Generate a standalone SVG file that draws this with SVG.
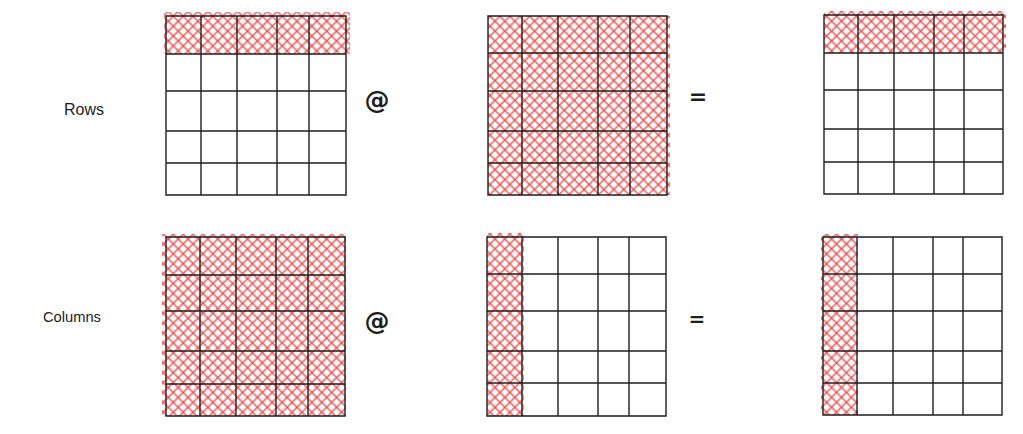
<svg xmlns="http://www.w3.org/2000/svg" width="1023" height="434" viewBox="0 0 1023 434">
  <defs>
    <pattern id="hatch" patternUnits="userSpaceOnUse" width="7" height="7" patternTransform="rotate(45)">
      <line x1="0" y1="1" x2="7" y2="1" class="h"/>
      <line x1="1" y1="0" x2="1" y2="7" class="h"/>
    </pattern>
    <style>
      .h { stroke: #f03e3e; stroke-width: 1.5; stroke-opacity: 0.85; }
      .fill { fill: url(#hatch); stroke: none; }
      .grid { fill: none; stroke: #1e1e1e; stroke-width: 1.4; stroke-linecap: round; }
      .lbl { font-family: "Liberation Sans", "DejaVu Sans", sans-serif; fill: #1e1e1e; }
      .op { font-family: "DejaVu Sans", "Liberation Sans", sans-serif; font-weight: bold; fill: #1e1e1e; text-anchor: middle; }
    </style>
  </defs>
  <rect width="1023" height="434" fill="#ffffff"/>

  <g id="label-rows"><text class="lbl" x="64" y="115" font-size="16">Rows</text></g>
  <g id="label-columns"><text class="lbl" x="43" y="322" font-size="14.7">Columns</text></g>

  <g id="A-rows">
    <rect class="fill" x="164" y="12" width="186" height="42"/>
    <path class="grid" d="M166 16H346V195H166Z M201 16V195 M237 16V195 M277 16V195 M309 16V195 M166 54H346 M166 91H346 M166 131H346 M166 163H346"/>
  </g>
  <g id="op-at-1"><text class="op" x="377" y="109" font-size="25">@</text></g>
  <g id="B-rows">
    <rect class="fill" x="488" y="16" width="182" height="179"/>
    <path class="grid" d="M488 16H667V195H488Z M522 16V195 M558 16V195 M598 16V195 M630 16V195 M488 53H667 M488 91H667 M488 131H667 M488 163H667"/>
  </g>
  <g id="op-eq-1"><text class="op" x="698" y="104" font-size="22">=</text></g>
  <g id="C-rows">
    <rect class="fill" x="824" y="11" width="182" height="42"/>
    <path class="grid" d="M824 15H1003V194H824Z M858 15V194 M894 15V194 M934 15V194 M964 15V194 M824 53H1003 M824 90H1003 M824 129H1003 M824 162H1003"/>
  </g>

  <g id="A-cols">
    <rect class="fill" x="162" y="234" width="184" height="182"/>
    <path class="grid" d="M166 237H345V416H166Z M200 237V416 M236 237V416 M276 237V416 M308 237V416 M166 275H345 M166 311H345 M166 351H345 M166 384H345"/>
  </g>
  <g id="op-at-2"><text class="op" x="377" y="330" font-size="25">@</text></g>
  <g id="B-cols">
    <rect class="fill" x="487" y="233" width="37" height="183"/>
    <path class="grid" d="M487 237H666V416H487Z M522 237V416 M558 237V416 M598 237V416 M629 237V416 M487 274H666 M487 311H666 M487 351H666 M487 383H666"/>
  </g>
  <g id="op-eq-2"><text class="op" x="697" y="326" font-size="20">=</text></g>
  <g id="C-cols">
    <rect class="fill" x="821" y="234" width="37" height="181"/>
    <path class="grid" d="M823 237H1002V415H823Z M857 237V415 M893 237V415 M933 237V415 M963 237V415 M823 274H1002 M823 311H1002 M823 351H1002 M823 383H1002"/>
  </g>
  <g id="connectors"></g>
</svg>
